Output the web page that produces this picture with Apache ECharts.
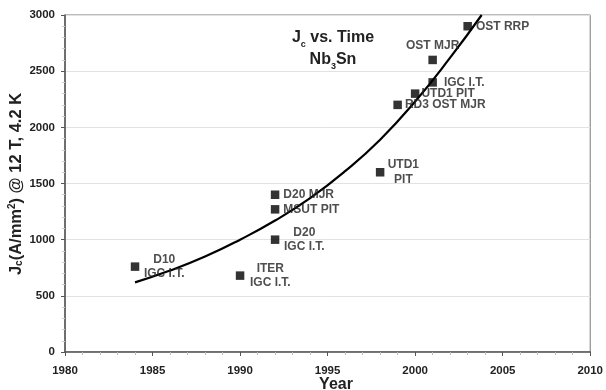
<!DOCTYPE html>
<html>
<head>
<meta charset="utf-8">
<script src="https://cdn.jsdelivr.net/npm/echarts@6/dist/echarts.min.js"></script>
<style>html,body{margin:0;padding:0;background:#fff}#c{width:606px;height:390px}</style>
</head>
<body>
<div id="c"></div>
<script>
// Data points
var pointYears  = [1984, 1990, 1992, 1992, 1992, 1998, 1999, 2000, 2001, 2001, 2003];
var pointValues = [760, 680, 1000, 1270, 1400, 1600, 2200, 2300, 2400, 2600, 2900];
var pointNames  = ['D10\nIGC I.T.', 'ITER\nIGC I.T.', 'D20\nIGC I.T.', 'MSUT PIT', 'D20 MJR', 'UTD1\nPIT', 'RD3 OST MJR', 'UTD1 PIT', 'IGC I.T.', 'OST MJR', 'OST RRP'];
// Trend curve
var trendYears  = [1984, 1986, 1988, 1990, 1992, 1994, 1996, 1998, 2000, 2002, 2003.8];
var trendValues = [620, 725, 850, 1000, 1170, 1370, 1610, 1890, 2230, 2620, 3000];
// Axis ticks
var xTicks = [1980, 1985, 1990, 1995, 2000, 2005, 2010];
var yTicks = [0, 500, 1000, 1500, 2000, 2500, 3000];

// label placement (style, not data)
var labelPos = ['right','right','right','right','right','right','right','right','right','top','right'];
var labelDist = [3, 4, 3, 4, 4, 3, 3, 2, 7, 3, 4];

var FONT = 'Arial, "Liberation Sans", sans-serif';
var TXT = '#222';
var chart = echarts.init(document.getElementById('c'));

var scatterData = pointYears.map(function (y, i) {
  var name = pointNames[i];
  var lines = name.split('\n');
  var fmt = lines.length > 1 ? lines.map(function (l) { return '{m|' + l + '}'; }).join('\n') : '{s|' + name + '}';
  return {
    value: [y, pointValues[i]],
    label: {
      show: true,
      position: labelPos[i],
      distance: labelDist[i],
      formatter: fmt,
      rich: {
        m: { width: lines.length > 1 ? (i === 5 ? 32 : 44) : undefined, align: 'center', fontSize: 12, fontWeight: 'bold', color: TXT, fontFamily: FONT, lineHeight: 14.5 },
        s: { fontSize: 12, fontWeight: 'bold', color: TXT, fontFamily: FONT, lineHeight: 14 }
      }
    }
  };
});

chart.setOption({
  animation: false,
  backgroundColor: '#fff',
  title: {
    left: 328, top: 22, textAlign: 'center',
    text: '{b|J}{sub|c}{b| vs. Time}\n{b|Nb}{sub|3}{b|Sn}',
    textStyle: {
      rich: {
        b: { fontSize: 16, fontWeight: 'bold', color: TXT, fontFamily: FONT, lineHeight: 22 },
        sub: { fontSize: 9, fontWeight: 'bold', color: TXT, fontFamily: FONT, verticalAlign: 'bottom', padding: [7, 0, 0, 0], lineHeight: 22 }
      }
    }
  },
  graphic: [{
    type: 'text', x: 16, y: 184, rotation: Math.PI / 2,
    style: {
      text: '{b|J}{sub|c}{b|(A/mm}{sup|2}{b|) @ 12 T, 4.2 K}',
      align: 'center', verticalAlign: 'middle',
      rich: {
        b: { fontSize: 16.5, fontWeight: 'bold', fill: TXT, fontFamily: FONT },
        sub: { fontSize: 10, fontWeight: 'bold', fill: TXT, fontFamily: FONT, verticalAlign: 'bottom', padding: [7, 0, 0, 0] },
        sup: { fontSize: 10, fontWeight: 'bold', fill: TXT, fontFamily: FONT, verticalAlign: 'top', padding: [0, 0, 7, 0] }
      }
    }
  }, {
    type: 'text', x: 336, y: 385,
    style: {
      text: 'Year', align: 'center', verticalAlign: 'middle',
      fontSize: 16, fontWeight: 'bold', fill: TXT, fontFamily: FONT
    }
  }],
  grid: { left: 65, right: 13, top: 15, bottom: 38, show: true, borderColor: '#777', borderWidth: 1 },
  xAxis: {
    type: 'value', min: xTicks[0], max: xTicks[xTicks.length - 1], interval: 5,
    axisLine: { lineStyle: { color: '#555', width: 1.5 } },
    axisTick: { show: true, length: 4, lineStyle: { color: '#555' } },
    minorTick: { show: true, splitNumber: 5, length: 3, lineStyle: { color: '#bbb' } },
    axisLabel: { fontSize: 11.5, fontWeight: 'bold', color: TXT, fontFamily: FONT, margin: 13, formatter: function (v) { return String(v); } },
    splitLine: { show: false }
  },
  yAxis: {
    type: 'value', min: yTicks[0], max: yTicks[yTicks.length - 1], interval: 500,
    axisLine: { show: true, lineStyle: { color: '#555', width: 1.5 } },
    axisTick: { show: true, length: 4, lineStyle: { color: '#555' } },
    minorTick: { show: true, splitNumber: 5, length: 3, lineStyle: { color: '#ccc' } },
    axisLabel: { fontSize: 11.5, fontWeight: 'bold', color: TXT, fontFamily: FONT, margin: 10, formatter: function (v) { return String(v); } },
    splitLine: { show: true, lineStyle: { color: '#e2e2e2', width: 1 } }
  },
  series: [
    {
      type: 'line', data: trendYears.map(function (y, i) { return [y, trendValues[i]]; }),
      smooth: true, showSymbol: false, symbol: 'none',
      lineStyle: { color: '#000', width: 2.2 }, z: 3
    },
    {
      type: 'scatter', data: scatterData, symbol: 'rect', symbolSize: 8.5,
      itemStyle: { color: '#000' }, z: 4
    }
  ]
});
</script>
</body>
</html>
